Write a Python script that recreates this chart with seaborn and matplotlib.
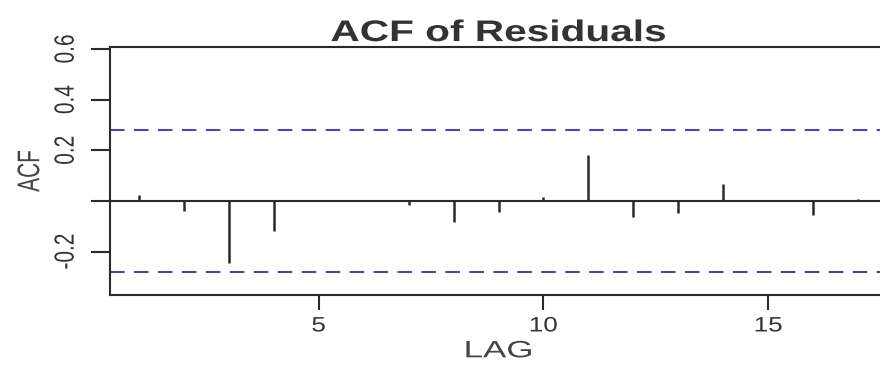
import matplotlib
matplotlib.use("Agg")
import matplotlib.pyplot as plt
import seaborn as sns
from matplotlib.patheffects import AbstractPathEffect
from matplotlib.transforms import Affine2D

# Sample autocorrelations of the residuals, lags 1..17
lags = [1, 2, 3, 4, 5, 6, 7, 8, 9, 10, 11, 12, 13, 14, 15, 16, 17]
acf_values = [0.024, -0.04, -0.245, -0.12, 0.0, 0.0, -0.015, -0.085, -0.045,
              0.015, 0.18, -0.065, -0.048, 0.067, 0.002, -0.055, 0.008]
conf_bound = 0.28
x_ticks = [5, 10, 15]
y_ticks = [-0.2, 0.0, 0.2, 0.4, 0.6]
y_tick_labels = ["-0.2", "", "0.2", "0.4", "0.6"]


class WideText(AbstractPathEffect):
    """Widen glyphs horizontally (in screen space) about their own centre."""

    def __init__(self, factor):
        super().__init__()
        self.factor = factor

    def draw_path(self, renderer, gc, tpath, affine, rgbFace=None):
        ext = tpath.get_extents(affine)
        cx = 0.5 * (ext.x0 + ext.x1)
        widen = Affine2D().translate(-cx, 0).scale(self.factor, 1).translate(cx, 0)
        renderer.draw_path(gc, tpath, affine + widen, rgbFace)


sns.set_theme(style="ticks")
plt.rcParams["font.family"] = ["Liberation Sans", "DejaVu Sans"]

fig = plt.figure(figsize=(8.8, 3.65), dpi=100)
ax = fig.add_axes([0.125, 0.192, 0.883, 0.679])

ax.vlines(lags, 0, acf_values, color="#2a2a2a", linewidth=1.8)
ax.axhline(0, color="#2a2a2a", linewidth=1.5, zorder=1)
for b in (conf_bound, -conf_bound):
    ax.axhline(b, color="#4a4aa0", linewidth=1.5, dashes=(7, 4.5))

ax.set_xlim(0.36, 17.64)
ax.set_ylim(-0.371, 0.607)
ax.set_xticks(x_ticks)
ax.set_xticklabels([str(t) for t in x_ticks])
ax.set_yticks(y_ticks)
ax.set_yticklabels(y_tick_labels, rotation=90, va="center")

for s in ax.spines.values():
    s.set_visible(True)
    s.set_color("#2a2a2a")
    s.set_linewidth(1.5)

ax.tick_params(axis="both", colors="#2a2a2a", labelcolor="#333333",
               labelsize=15, width=1.5)
ax.tick_params(axis="y", length=14, pad=11)
ax.tick_params(axis="x", length=11, pad=4.5)

xl = ax.set_xlabel("LAG", fontsize=17, color="#444444", labelpad=3.5)
yl = ax.set_ylabel("ACF", fontsize=15, color="#444444", labelpad=12)
tt = ax.set_title("ACF of Residuals", fontsize=21.5, fontweight="bold",
                  color="#333333", pad=2.2)

tt.set_path_effects([WideText(1.36)])
xl.set_path_effects([WideText(1.48)])
yl.set_path_effects([WideText(1.5)])
for lab in ax.get_xticklabels():
    lab.set_path_effects([WideText(1.25)])
for lab in ax.get_yticklabels():
    lab.set_path_effects([WideText(1.33)])

fig.savefig("out.png", dpi=100)
